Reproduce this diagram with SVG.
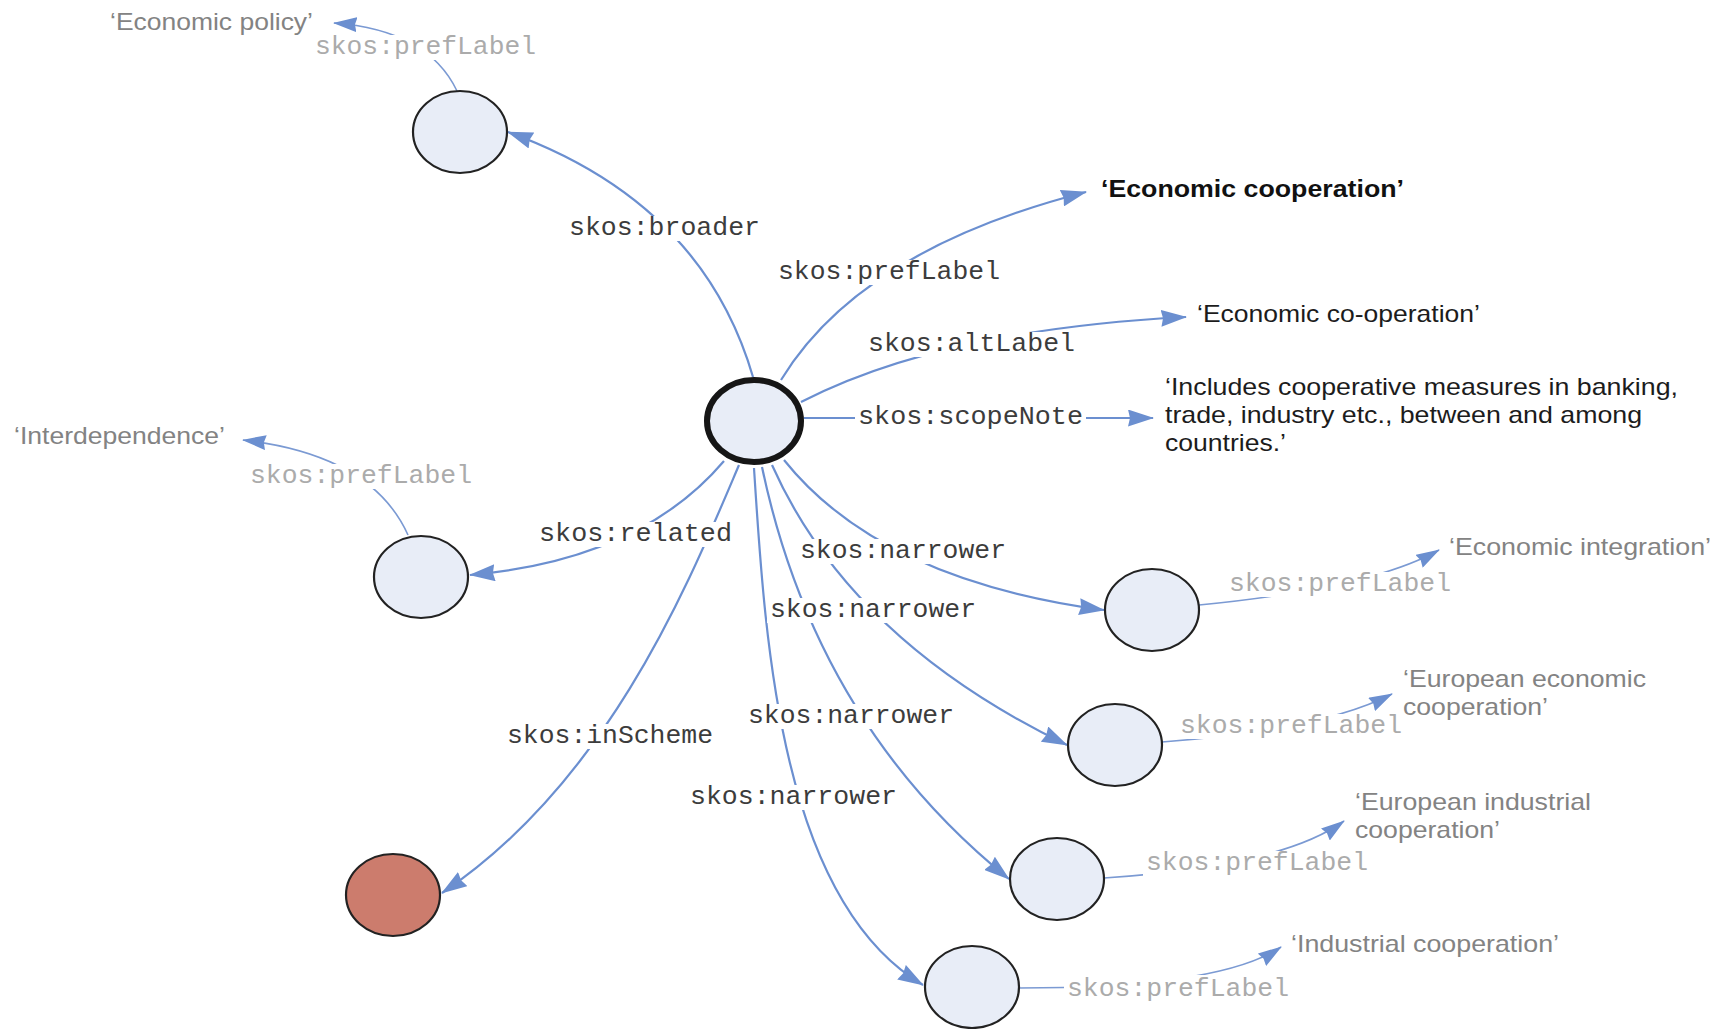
<svg xmlns="http://www.w3.org/2000/svg" width="1720" height="1029" viewBox="0 0 1720 1029">
<style>
.node{fill:#e8edf7;stroke:#222;stroke-width:2.2}
.center{stroke-width:6;stroke:#161616}
.scheme{fill:#cc7c6d}
.edge{fill:none;stroke:#6b8fd0;stroke-width:2.2;marker-end:url(#arr)}
.edge2{fill:none;stroke:#7b9ad3;stroke-width:1.6;marker-end:url(#arr2)}
.bg{fill:#ffffff}
.mono{font-family:"Liberation Mono","DejaVu Sans Mono",monospace;font-size:25px;fill:#3c3c3c}
.light{fill:#ababab}
.sans{font-family:"Liberation Sans",Arial,sans-serif;font-size:24px}
.gray{fill:#838383}
.dark{fill:#1c1c1c}
.bold{font-weight:bold;fill:#111}
</style>
<defs>
<marker id="arr" markerUnits="userSpaceOnUse" viewBox="0 0 26 17" markerWidth="26" markerHeight="17" refX="25" refY="8.5" orient="auto">
<path d="M0,0 L26,8.5 L0,17 L2,8.5 z" fill="#6b8fd0"/>
</marker>
<marker id="arr2" markerUnits="userSpaceOnUse" viewBox="0 0 24 15" markerWidth="24" markerHeight="15" refX="23" refY="7.5" orient="auto">
<path d="M0,0 L24,7.5 L0,15 L2,7.5 z" fill="#6b8fd0"/>
</marker>
</defs>
<rect width="1720" height="1029" fill="#ffffff"/>

<g id="connectors">
<path class="edge" d="M753,377 Q702,202 508,132"/>
<path class="edge" d="M781,380 Q860,250 1086,192"/>
<path class="edge" d="M801,402 Q940,330 1186,317"/>
<path class="edge" d="M804,418 L1153,418"/>
<path class="edge" d="M724,461 Q640,560 470,575"/>
<path class="edge" d="M739,465 C690,580 610,780 442,893"/>
<path class="edge" d="M784,460 Q880,580 1104,610"/>
<path class="edge" d="M772,465 Q850,640 1067,745"/>
<path class="edge" d="M762,467 C790,600 855,755 1009,879"/>
<path class="edge" d="M754,468 C765,640 780,900 923,985"/>
<path class="edge2" d="M457,91 Q428,30 334,23"/>
<path class="edge2" d="M408,535 Q372,455 243,440"/>
<path class="edge2" d="M1199,605 Q1372,588 1439,550"/>
<path class="edge2" d="M1162,742 Q1322,730 1392,694"/>
<path class="edge2" d="M1104,878 Q1282,866 1344,821"/>
<path class="edge2" d="M1019,988 Q1220,988 1281,947"/>
</g>

<g id="edge-labels">
<rect class="bg" x="312" y="35" width="227" height="25"/>
<text class="mono light" x="315" y="54" textLength="221" lengthAdjust="spacingAndGlyphs">skos:prefLabel</text>
<rect class="bg" x="566" y="216" width="197" height="25"/>
<text class="mono" x="569" y="235" textLength="191" lengthAdjust="spacingAndGlyphs">skos:broader</text>
<rect class="bg" x="775" y="260" width="228" height="25"/>
<text class="mono" x="778" y="279" textLength="222" lengthAdjust="spacingAndGlyphs">skos:prefLabel</text>
<rect class="bg" x="865" y="332" width="213" height="25"/>
<text class="mono" x="868" y="351" textLength="207" lengthAdjust="spacingAndGlyphs">skos:altLabel</text>
<rect class="bg" x="855" y="405" width="231" height="25"/>
<text class="mono" x="858" y="424" textLength="225" lengthAdjust="spacingAndGlyphs">skos:scopeNote</text>
<rect class="bg" x="247" y="464" width="228" height="25"/>
<text class="mono light" x="250" y="483" textLength="222" lengthAdjust="spacingAndGlyphs">skos:prefLabel</text>
<rect class="bg" x="536" y="522" width="199" height="25"/>
<text class="mono" x="539" y="541" textLength="193" lengthAdjust="spacingAndGlyphs">skos:related</text>
<rect class="bg" x="797" y="539" width="212" height="25"/>
<text class="mono" x="800" y="558" textLength="206" lengthAdjust="spacingAndGlyphs">skos:narrower</text>
<rect class="bg" x="767" y="598" width="212" height="25"/>
<text class="mono" x="770" y="617" textLength="206" lengthAdjust="spacingAndGlyphs">skos:narrower</text>
<rect class="bg" x="745" y="704" width="212" height="25"/>
<text class="mono" x="748" y="723" textLength="206" lengthAdjust="spacingAndGlyphs">skos:narrower</text>
<rect class="bg" x="504" y="724" width="212" height="25"/>
<text class="mono" x="507" y="743" textLength="206" lengthAdjust="spacingAndGlyphs">skos:inScheme</text>
<rect class="bg" x="687" y="785" width="213" height="25"/>
<text class="mono" x="690" y="804" textLength="207" lengthAdjust="spacingAndGlyphs">skos:narrower</text>
<rect class="bg" x="1226" y="572" width="228" height="25"/>
<text class="mono light" x="1229" y="591" textLength="222" lengthAdjust="spacingAndGlyphs">skos:prefLabel</text>
<rect class="bg" x="1177" y="714" width="228" height="25"/>
<text class="mono light" x="1180" y="733" textLength="222" lengthAdjust="spacingAndGlyphs">skos:prefLabel</text>
<rect class="bg" x="1143" y="851" width="228" height="25"/>
<text class="mono light" x="1146" y="870" textLength="222" lengthAdjust="spacingAndGlyphs">skos:prefLabel</text>
<rect class="bg" x="1064" y="975" width="228" height="27"/>
<text class="mono light" x="1067" y="996" textLength="222" lengthAdjust="spacingAndGlyphs">skos:prefLabel</text>
</g>

<g id="node-center"><ellipse class="node center" cx="754" cy="421" rx="47" ry="41"/></g>
<g id="node-broader"><ellipse class="node" cx="460" cy="132" rx="47" ry="41"/></g>
<g id="node-related"><ellipse class="node" cx="421" cy="577" rx="47" ry="41"/></g>
<g id="node-scheme"><ellipse class="node scheme" cx="393" cy="895" rx="47" ry="41"/></g>
<g id="node-narrower1"><ellipse class="node" cx="1152" cy="610" rx="47" ry="41"/></g>
<g id="node-narrower2"><ellipse class="node" cx="1115" cy="745" rx="47" ry="41"/></g>
<g id="node-narrower3"><ellipse class="node" cx="1057" cy="879" rx="47" ry="41"/></g>
<g id="node-narrower4"><ellipse class="node" cx="972" cy="987" rx="47" ry="41"/></g>

<g id="lit-economic-policy"><text class="sans gray" x="110" y="30" textLength="203" lengthAdjust="spacingAndGlyphs">‘Economic policy’</text></g>
<g id="lit-economic-cooperation"><text class="sans bold" x="1101" y="197" textLength="303" lengthAdjust="spacingAndGlyphs">‘Economic cooperation’</text></g>
<g id="lit-economic-co-operation"><text class="sans dark" x="1197" y="322" textLength="283" lengthAdjust="spacingAndGlyphs">‘Economic co-operation’</text></g>
<g id="lit-scope-note">
<text class="sans dark" x="1165" y="395" textLength="513" lengthAdjust="spacingAndGlyphs">‘Includes cooperative measures in banking,</text>
<text class="sans dark" x="1165" y="423" textLength="477" lengthAdjust="spacingAndGlyphs">trade, industry etc., between and among</text>
<text class="sans dark" x="1165" y="451" textLength="121" lengthAdjust="spacingAndGlyphs">countries.’</text>
</g>
<g id="lit-interdependence"><text class="sans gray" x="14" y="444" textLength="211" lengthAdjust="spacingAndGlyphs">‘Interdependence’</text></g>
<g id="lit-economic-integration"><text class="sans gray" x="1449" y="555" textLength="262" lengthAdjust="spacingAndGlyphs">‘Economic integration’</text></g>
<g id="lit-european-economic">
<text class="sans gray" x="1403" y="687" textLength="243" lengthAdjust="spacingAndGlyphs">‘European economic</text>
<text class="sans gray" x="1403" y="715" textLength="145" lengthAdjust="spacingAndGlyphs">cooperation’</text>
</g>
<g id="lit-european-industrial">
<text class="sans gray" x="1355" y="810" textLength="236" lengthAdjust="spacingAndGlyphs">‘European industrial</text>
<text class="sans gray" x="1355" y="838" textLength="145" lengthAdjust="spacingAndGlyphs">cooperation’</text>
</g>
<g id="lit-industrial-cooperation"><text class="sans gray" x="1291" y="952" textLength="268" lengthAdjust="spacingAndGlyphs">‘Industrial cooperation’</text></g>
</svg>
